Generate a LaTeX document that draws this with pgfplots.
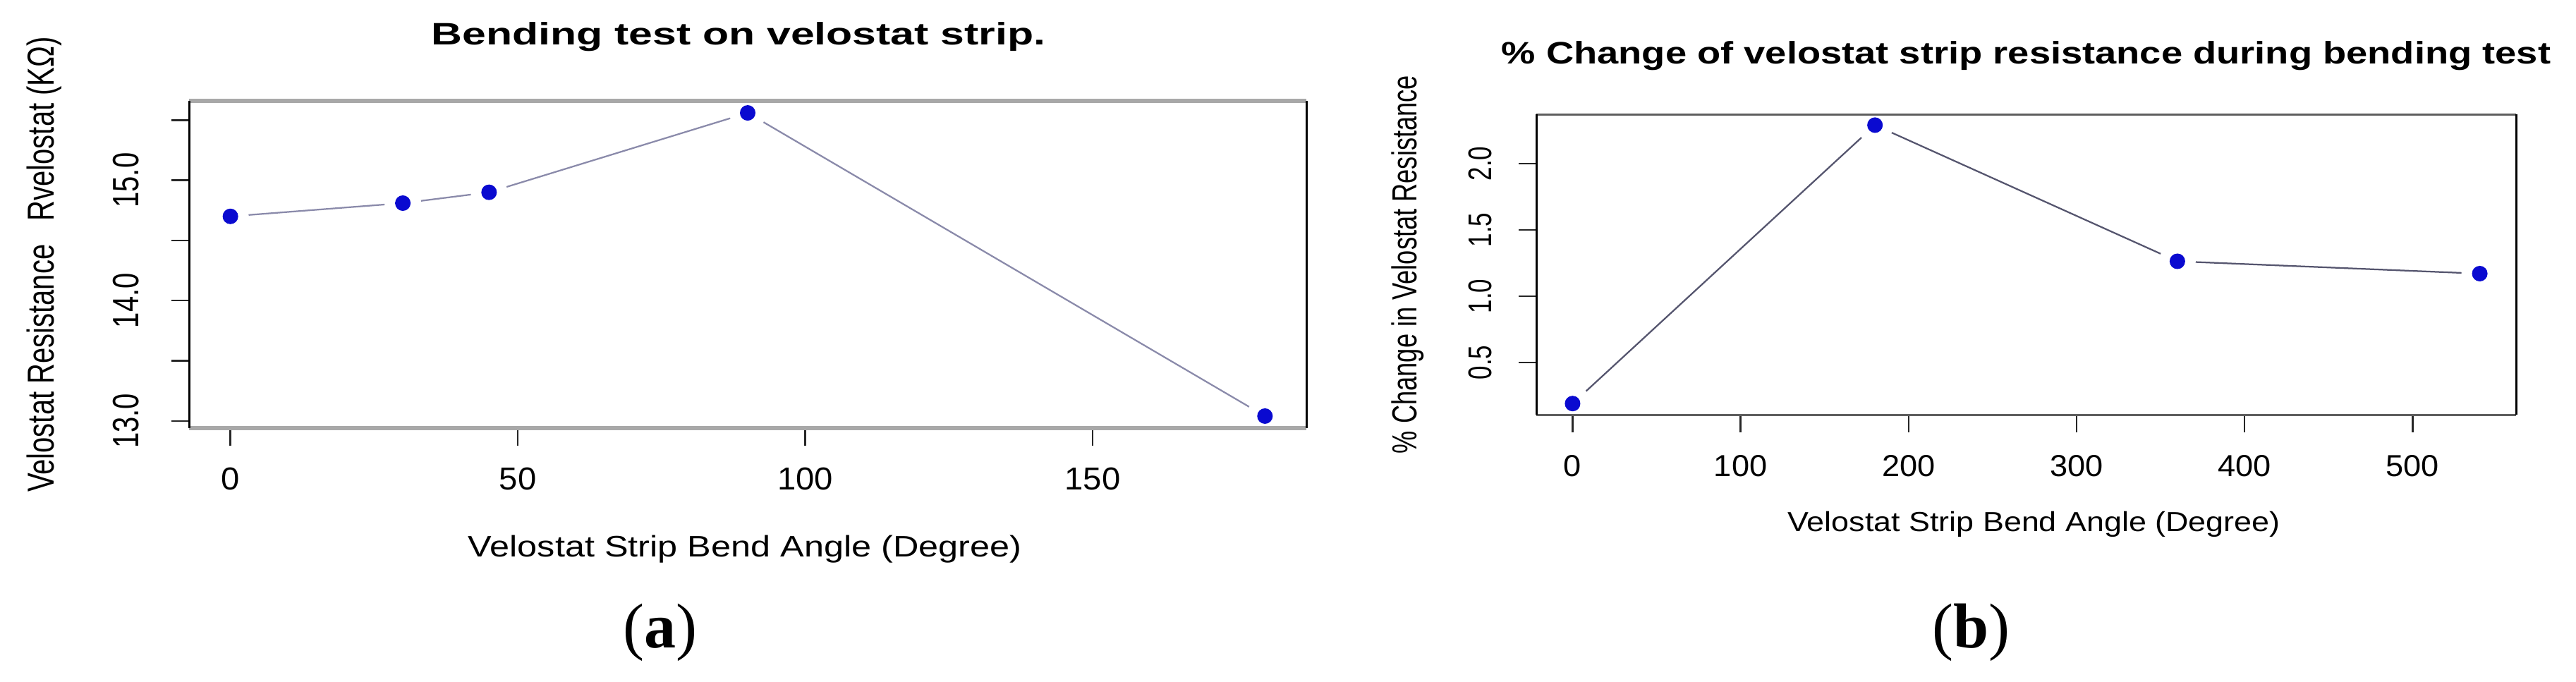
\documentclass[border=0pt]{standalone}
\usepackage{fontspec}
\setmainfont{Liberation Sans}
\newfontfamily\capfont{Liberation Serif}
\usepackage{graphicx}
\usepackage{pgfplots}
\usepackage{pgfplotstable}
\pgfplotsset{compat=1.18}

\definecolor{ptblue}{HTML}{0A0AD0}
\definecolor{lineA}{HTML}{8A8AAA}
\definecolor{lineB}{HTML}{55556E}
\definecolor{frameA}{HTML}{A8A8A8}
\definecolor{frameB}{HTML}{5E5E5E}

\newcommand{\fs}[1]{\fontsize{#1}{#1}\selectfont}
% the reference is stretched sideways, so text is widened to match
\newcommand{\hx}[2]{\scalebox{#1}[1]{#2}}
\newcommand{\vx}[2]{\scalebox{1}[#1]{#2}}

\pgfplotstableread{
angle  res
0      14.70
30     14.81
45     14.90
90     15.56
180    13.04
}\bendA

\pgfplotstableread{
angle  pct
0      0.19
180    2.29
360    1.263
540    1.17
}\bendB

\pgfplotsset{
  rplot/.style={
    scale only axis, anchor=south west,
    separate axis lines, axis on top,
    clip marker paths=true,
    tick align=outside, major tick length=5pt,
    xtick pos=left, ytick pos=left,
    minor tick num=0,
    tick style={black!85, line width=0.5pt},
    y axis line style={black, line width=0.6pt},
    xticklabel style={anchor=base},
    every axis x label/.style={anchor=base},
    every axis y label/.style={rotate=90, anchor=base},
    every axis title/.style={anchor=base},
  }
}

\begin{document}
\begin{tikzpicture}
\useasboundingbox (0,0) rectangle (730.4pt,193.2pt);

% ---------- (a) ----------
\begin{axis}[rplot,
  at={(53.6pt,71.8pt)}, width=316.8pt, height=92.8pt,
  xmin=-7.2, xmax=187.2, ymin=12.94, ymax=15.66,
  x axis line style={frameA, line width=1.1pt},
  xtick={0,50,100,150},
  xticklabels={\hx{1.05}{0},\hx{1.05}{50},\hx{1.05}{100},\hx{1.05}{150}},
  xticklabel style={font=\fs{9pt}, yshift=-12.4pt},
  ytick={13,13.5,14,14.5,15,15.5},
  yticklabels={\vx{1.3}{13.0},,\vx{1.3}{14.0},,\vx{1.3}{15.0},},
  yticklabel style={font=\fs{8pt}, xshift=-9.2pt, rotate=90, anchor=base},
  title={\hx{1.38}{\bfseries Bending test on velostat strip.}},
  title style={font=\fs{8.8pt}, at={([xshift=-2.6pt,yshift=16pt]axis description cs:0.5,1)}},
  xlabel={\hx{1.2}{Velostat Strip Bend Angle (Degree)}},
  xlabel style={font=\fs{8.4pt}, at={([xshift=-0.8pt,yshift=-36.4pt]axis description cs:0.5,0)}},
  ylabel={\vx{1.33}{Velostat Resistance\ \ \ Rvelostat (KΩ)}},
  ylabel style={font=\fs{8pt}, at={([xshift=-38.2pt]axis description cs:0,0.5)}},
]
\addplot[lineA, line width=0.45pt] table[x=angle, y=res] {\bendA};
\addplot[white, only marks, mark=*, mark size=5pt] table[x=angle, y=res] {\bendA};
\addplot[ptblue, only marks, mark=*, mark size=2pt] table[x=angle, y=res] {\bendA};
\end{axis}

% ---------- (b) ----------
\begin{axis}[rplot,
  at={(435.6pt,75.6pt)}, width=277.8pt, height=85.2pt,
  xmin=-21.6, xmax=561.6, ymin=0.106, ymax=2.372,
  x axis line style={frameB, line width=0.6pt},
  xtick={0,100,200,300,400,500},
  xticklabels={\hx{1.05}{0},\hx{1.05}{100},\hx{1.05}{200},\hx{1.05}{300},\hx{1.05}{400},\hx{1.05}{500}},
  xticklabel style={font=\fs{8.6pt}, yshift=-12.4pt},
  ytick={0.5,1,1.5,2},
  yticklabels={\vx{1.33}{0.5},\vx{1.33}{1.0},\vx{1.33}{1.5},\vx{1.33}{2.0}},
  yticklabel style={font=\fs{7pt}, xshift=-7.8pt, rotate=90, anchor=base},
  title={\hx{1.234}{\bfseries \% Change of velostat strip resistance during bending test}},
  title style={font=\fs{8.8pt}, at={([yshift=14.4pt]axis description cs:0.5,1)}},
  xlabel={\hx{1.15}{Velostat Strip Bend Angle (Degree)}},
  xlabel style={font=\fs{7.8pt}, at={([xshift=2.2pt,yshift=-33pt]axis description cs:0.5,0)}},
  ylabel={\vx{1.36}{\% Change in Velostat Resistance}},
  ylabel style={font=\fs{7.25pt}, at={([xshift=-34pt]axis description cs:0,0.5)}},
]
\addplot[lineB, line width=0.45pt] table[x=angle, y=pct] {\bendB};
\addplot[white, only marks, mark=*, mark size=5pt] table[x=angle, y=pct] {\bendB};
\addplot[ptblue, only marks, mark=*, mark size=2pt] table[x=angle, y=pct] {\bendB};
\end{axis}

\node[anchor=base, font=\capfont\fs{18pt}] at (187.2pt,9.6pt) {(\textbf{a})};
\node[anchor=base, font=\capfont\fs{18pt}] at (558.8pt,9.6pt) {(\textbf{b})};
\end{tikzpicture}
\end{document}
